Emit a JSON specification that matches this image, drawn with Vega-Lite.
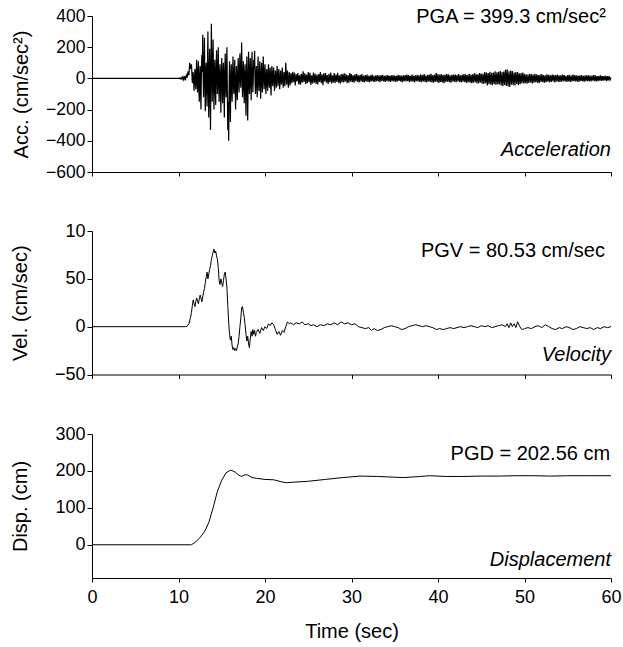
{
  "$schema": "https://vega.github.io/schema/vega-lite/v6.json",
  "padding": {"left": 10, "top": 7, "right": 0, "bottom": 5},
  "spacing": 41,
  "config": {
    "view": {"stroke": null},
    "font": "Liberation Sans",
    "axis": {"grid": false, "domainColor": "#000", "tickColor": "#000", "labelColor": "#000", "titleColor": "#000", "labelFont": "Liberation Sans", "titleFont": "Liberation Sans", "labelFontSize": 18, "titleFontSize": 20, "titleFontWeight": "normal", "domainWidth": 1, "tickWidth": 1, "labelOverlap": false},
    "axisX": {"tickSize": 4, "labelPadding": 6, "labelFlush": false},
    "axisY": {"tickSize": 5, "labelPadding": 2}
  },
  "datasets": {
    "acc": [
      {"t":0,"acc":0},{"t":10.0,"acc":0},{"t":10.1,"acc":3},{"t":10.2,"acc":-4},{"t":10.3,"acc":6},{"t":10.4,"acc":-5},{"t":10.5,"acc":10},{"t":10.6,"acc":-8},{"t":10.7,"acc":15},{"t":10.8,"acc":-12},{"t":10.9,"acc":20},
      {"t":11.0,"acc":5},{"t":11.1,"acc":45},{"t":11.2,"acc":20},{"t":11.3,"acc":100},{"t":11.4,"acc":60},{"t":11.5,"acc":90},{"t":11.6,"acc":-30},{"t":11.7,"acc":40},{"t":11.8,"acc":-80},{"t":11.9,"acc":60},
      {"t":12.0,"acc":-70},{"t":12.05,"acc":30},{"t":12.1,"acc":120},{"t":12.15,"acc":-20},{"t":12.2,"acc":-90},{"t":12.25,"acc":40},{"t":12.3,"acc":110},{"t":12.35,"acc":-60},{"t":12.4,"acc":-150},{"t":12.45,"acc":10},{"t":12.5,"acc":80},{"t":12.55,"acc":-90},{"t":12.6,"acc":-200},{"t":12.65,"acc":60},{"t":12.7,"acc":150},{"t":12.75,"acc":40},{"t":12.8,"acc":280},{"t":12.85,"acc":30},{"t":12.9,"acc":-120},{"t":12.95,"acc":80},
      {"t":13.0,"acc":260},{"t":13.05,"acc":-40},{"t":13.1,"acc":-210},{"t":13.15,"acc":20},{"t":13.2,"acc":100},{"t":13.25,"acc":-50},{"t":13.3,"acc":-180},{"t":13.35,"acc":90},{"t":13.4,"acc":300},{"t":13.45,"acc":-60},{"t":13.5,"acc":-250},{"t":13.55,"acc":40},{"t":13.6,"acc":190},{"t":13.65,"acc":-90},{"t":13.7,"acc":-330},{"t":13.75,"acc":60},{"t":13.8,"acc":350},{"t":13.85,"acc":100},{"t":13.9,"acc":-150},{"t":13.95,"acc":30},
      {"t":14.0,"acc":250},{"t":14.05,"acc":-30},{"t":14.1,"acc":-200},{"t":14.15,"acc":50},{"t":14.2,"acc":120},{"t":14.25,"acc":-60},{"t":14.3,"acc":-170},{"t":14.35,"acc":40},{"t":14.4,"acc":180},{"t":14.45,"acc":20},{"t":14.5,"acc":-100},{"t":14.55,"acc":60},{"t":14.6,"acc":200},{"t":14.65,"acc":-40},{"t":14.7,"acc":-150},{"t":14.75,"acc":10},{"t":14.8,"acc":90},{"t":14.85,"acc":-70},{"t":14.9,"acc":-220},{"t":14.95,"acc":20},
      {"t":15.0,"acc":130},{"t":15.05,"acc":-30},{"t":15.1,"acc":-160},{"t":15.15,"acc":40},{"t":15.2,"acc":100},{"t":15.25,"acc":-80},{"t":15.3,"acc":-250},{"t":15.35,"acc":30},{"t":15.4,"acc":160},{"t":15.45,"acc":-20},{"t":15.5,"acc":-120},{"t":15.55,"acc":70},{"t":15.6,"acc":200},{"t":15.65,"acc":-100},{"t":15.7,"acc":-330},{"t":15.75,"acc":-150},{"t":15.8,"acc":-400},{"t":15.85,"acc":-80},{"t":15.9,"acc":110},{"t":15.95,"acc":-50},
      {"t":16.0,"acc":-280},{"t":16.05,"acc":-20},{"t":16.1,"acc":90},{"t":16.15,"acc":-40},{"t":16.2,"acc":-150},{"t":16.25,"acc":30},{"t":16.3,"acc":140},{"t":16.35,"acc":-20},{"t":16.4,"acc":-100},{"t":16.45,"acc":40},{"t":16.5,"acc":120},{"t":16.55,"acc":-60},{"t":16.6,"acc":-200},{"t":16.65,"acc":-30},{"t":16.7,"acc":80},{"t":16.75,"acc":-50},{"t":16.8,"acc":-140},{"t":16.85,"acc":20},{"t":16.9,"acc":130},{"t":16.95,"acc":10},
      {"t":17.0,"acc":-90},{"t":17.05,"acc":40},{"t":17.1,"acc":160},{"t":17.15,"acc":20},{"t":17.2,"acc":-60},{"t":17.25,"acc":70},{"t":17.3,"acc":230},{"t":17.35,"acc":30},{"t":17.4,"acc":-120},{"t":17.45,"acc":10},{"t":17.5,"acc":110},{"t":17.55,"acc":-40},{"t":17.6,"acc":-160},{"t":17.65,"acc":20},{"t":17.7,"acc":90},{"t":17.75,"acc":-80},{"t":17.8,"acc":-240},{"t":17.85,"acc":10},{"t":17.9,"acc":140},{"t":17.95,"acc":-60},
      {"t":18.0,"acc":-270},{"t":18.05,"acc":-30},{"t":18.1,"acc":170},{"t":18.15,"acc":40},{"t":18.2,"acc":-100},{"t":18.25,"acc":20},{"t":18.3,"acc":130},{"t":18.35,"acc":-10},{"t":18.4,"acc":-140},{"t":18.45,"acc":30},{"t":18.5,"acc":170},{"t":18.55,"acc":20},{"t":18.6,"acc":-90},{"t":18.65,"acc":10},{"t":18.7,"acc":120},{"t":18.75,"acc":60},{"t":18.8,"acc":175},{"t":18.85,"acc":-20},{"t":18.9,"acc":-100},{"t":18.95,"acc":10},
      {"t":19.0,"acc":80},{"t":19.05,"acc":-30},{"t":19.1,"acc":-120},{"t":19.15,"acc":20},{"t":19.2,"acc":140},{"t":19.25,"acc":-10},{"t":19.3,"acc":-80},{"t":19.35,"acc":30},{"t":19.4,"acc":110},{"t":19.45,"acc":-40},{"t":19.5,"acc":-130},{"t":19.55,"acc":20},{"t":19.6,"acc":100},{"t":19.65,"acc":-20},{"t":19.7,"acc":-90},{"t":19.75,"acc":50},{"t":19.8,"acc":140},{"t":19.85,"acc":10},{"t":19.9,"acc":-70},{"t":19.95,"acc":20},
      {"t":20.0,"acc":90},{"t":20.05,"acc":-20},{"t":20.1,"acc":-100},{"t":20.15,"acc":10},{"t":20.2,"acc":60},{"t":20.25,"acc":-30},{"t":20.3,"acc":-80},{"t":20.35,"acc":20},{"t":20.4,"acc":90},{"t":20.45,"acc":-10},{"t":20.5,"acc":-60},{"t":20.55,"acc":30},{"t":20.6,"acc":70},{"t":20.65,"acc":-40},{"t":20.7,"acc":-110},{"t":20.75,"acc":20},{"t":20.8,"acc":80},{"t":20.85,"acc":-10},{"t":20.9,"acc":-50},{"t":20.95,"acc":30},
      {"t":21.0,"acc":70},{"t":21.1,"acc":-80},{"t":21.2,"acc":50},{"t":21.3,"acc":-60},{"t":21.4,"acc":80},{"t":21.5,"acc":-50},{"t":21.6,"acc":60},{"t":21.7,"acc":-70},{"t":21.8,"acc":50},{"t":21.9,"acc":-40},
      {"t":22.0,"acc":70},{"t":22.1,"acc":-60},{"t":22.2,"acc":40},{"t":22.3,"acc":-50},{"t":22.4,"acc":100},{"t":22.5,"acc":-40},{"t":22.6,"acc":50},{"t":22.7,"acc":-60},{"t":22.8,"acc":40},{"t":22.9,"acc":-45},
      {"t":23.0,"acc":35},{"t":23.1,"acc":-30},{"t":23.2,"acc":42},{"t":23.3,"acc":-25},{"t":23.4,"acc":38},{"t":23.5,"acc":-45},{"t":23.6,"acc":28},{"t":23.7,"acc":-20},{"t":23.8,"acc":35},{"t":23.9,"acc":-38},
      {"t":24.0,"acc":22},{"t":24.1,"acc":-40},{"t":24.2,"acc":30},{"t":24.3,"acc":-28},{"t":24.4,"acc":45},{"t":24.5,"acc":-22},{"t":24.6,"acc":33},{"t":24.7,"acc":-36},{"t":24.8,"acc":25},{"t":24.9,"acc":-30},
      {"t":25.0,"acc":40},{"t":25.1,"acc":-25},{"t":25.2,"acc":36},{"t":25.3,"acc":-42},{"t":25.4,"acc":20},{"t":25.5,"acc":-33},{"t":25.6,"acc":38},{"t":25.7,"acc":-27},{"t":25.8,"acc":30},{"t":25.9,"acc":-35},
      {"t":26.0,"acc":24},{"t":26.1,"acc":-38},{"t":26.2,"acc":28},{"t":26.3,"acc":-22},{"t":26.4,"acc":40},{"t":26.5,"acc":-30},{"t":26.6,"acc":26},{"t":26.7,"acc":-44},{"t":26.8,"acc":32},{"t":26.9,"acc":-20},
      {"t":27.0,"acc":35},{"t":27.1,"acc":-28},{"t":27.2,"acc":22},{"t":27.3,"acc":-35},{"t":27.4,"acc":30},{"t":27.5,"acc":-25},{"t":27.6,"acc":38},{"t":27.7,"acc":-32},{"t":27.8,"acc":20},{"t":27.9,"acc":-26},
      {"t":28.0,"acc":34},{"t":28.1,"acc":-30},{"t":28.2,"acc":25},{"t":28.3,"acc":-22},{"t":28.4,"acc":36},{"t":28.5,"acc":-28},{"t":28.6,"acc":20},{"t":28.7,"acc":-34},{"t":28.8,"acc":27},{"t":28.9,"acc":-24},
      {"t":29.0,"acc":30},{"t":29.1,"acc":-26},{"t":29.2,"acc":33},{"t":29.3,"acc":-20},{"t":29.4,"acc":25},{"t":29.5,"acc":-30},{"t":29.6,"acc":22},{"t":29.7,"acc":-27},{"t":29.8,"acc":35},{"t":29.9,"acc":-21},
      {"t":30.0,"acc":28},{"t":30.1,"acc":-24},{"t":30.2,"acc":20},{"t":30.3,"acc":-28},{"t":30.4,"acc":26},{"t":30.5,"acc":-18},{"t":30.6,"acc":30},{"t":30.7,"acc":-22},{"t":30.8,"acc":19},{"t":30.9,"acc":-25},
      {"t":31.0,"acc":23},{"t":31.1,"acc":-20},{"t":31.2,"acc":27},{"t":31.3,"acc":-23},{"t":31.4,"acc":18},{"t":31.5,"acc":-26},{"t":31.6,"acc":22},{"t":31.7,"acc":-19},{"t":31.8,"acc":25},{"t":31.9,"acc":-22},
      {"t":32.0,"acc":17},{"t":32.1,"acc":-25},{"t":32.2,"acc":20},{"t":32.3,"acc":-18},{"t":32.4,"acc":24},{"t":32.5,"acc":-21},{"t":32.6,"acc":16},{"t":32.7,"acc":-23},{"t":32.8,"acc":20},{"t":32.9,"acc":-17},
      {"t":33.0,"acc":22},{"t":33.1,"acc":-20},{"t":33.2,"acc":18},{"t":33.3,"acc":-24},{"t":33.4,"acc":21},{"t":33.5,"acc":-16},{"t":33.6,"acc":23},{"t":33.7,"acc":-19},{"t":33.8,"acc":17},{"t":33.9,"acc":-22},
      {"t":34.0,"acc":19},{"t":34.1,"acc":-18},{"t":34.2,"acc":22},{"t":34.3,"acc":-20},{"t":34.4,"acc":16},{"t":34.5,"acc":-23},{"t":34.6,"acc":19},{"t":34.7,"acc":-17},{"t":34.8,"acc":21},{"t":34.9,"acc":-20},
      {"t":35.0,"acc":18},{"t":35.1,"acc":-22},{"t":35.2,"acc":17},{"t":35.3,"acc":-19},{"t":35.4,"acc":23},{"t":35.5,"acc":-16},{"t":35.6,"acc":20},{"t":35.7,"acc":-21},{"t":35.8,"acc":18},{"t":35.9,"acc":-24},
      {"t":36.0,"acc":19},{"t":36.1,"acc":-17},{"t":36.2,"acc":22},{"t":36.3,"acc":-20},{"t":36.4,"acc":25},{"t":36.5,"acc":-18},{"t":36.6,"acc":21},{"t":36.7,"acc":-23},{"t":36.8,"acc":17},{"t":36.9,"acc":-19},
      {"t":37.0,"acc":24},{"t":37.1,"acc":-21},{"t":37.2,"acc":18},{"t":37.3,"acc":-25},{"t":37.4,"acc":20},{"t":37.5,"acc":-17},{"t":37.6,"acc":23},{"t":37.7,"acc":-20},{"t":37.8,"acc":19},{"t":37.9,"acc":-22},
      {"t":38.0,"acc":26},{"t":38.1,"acc":-24},{"t":38.2,"acc":21},{"t":38.3,"acc":-19},{"t":38.4,"acc":27},{"t":38.5,"acc":-22},{"t":38.6,"acc":18},{"t":38.7,"acc":-26},{"t":38.8,"acc":23},{"t":38.9,"acc":-20},
      {"t":39.0,"acc":25},{"t":39.1,"acc":-23},{"t":39.2,"acc":30},{"t":39.3,"acc":-26},{"t":39.4,"acc":22},{"t":39.5,"acc":-28},{"t":39.6,"acc":25},{"t":39.7,"acc":-21},{"t":39.8,"acc":35},{"t":39.9,"acc":-24},
      {"t":40.0,"acc":27},{"t":40.1,"acc":-29},{"t":40.2,"acc":24},{"t":40.3,"acc":-22},{"t":40.4,"acc":28},{"t":40.5,"acc":-26},{"t":40.6,"acc":21},{"t":40.7,"acc":-30},{"t":40.8,"acc":25},{"t":40.9,"acc":-23},
      {"t":41.0,"acc":27},{"t":41.1,"acc":-21},{"t":41.2,"acc":26},{"t":41.3,"acc":-24},{"t":41.4,"acc":20},{"t":41.5,"acc":-27},{"t":41.6,"acc":23},{"t":41.7,"acc":-19},{"t":41.8,"acc":25},{"t":41.9,"acc":-22},
      {"t":42.0,"acc":24},{"t":42.1,"acc":-25},{"t":42.2,"acc":22},{"t":42.3,"acc":-20},{"t":42.4,"acc":27},{"t":42.5,"acc":-23},{"t":42.6,"acc":19},{"t":42.7,"acc":-26},{"t":42.8,"acc":24},{"t":42.9,"acc":-21},
      {"t":43.0,"acc":28},{"t":43.1,"acc":-24},{"t":43.2,"acc":26},{"t":43.3,"acc":-29},{"t":43.4,"acc":22},{"t":43.5,"acc":-25},{"t":43.6,"acc":30},{"t":43.7,"acc":-27},{"t":43.8,"acc":24},{"t":43.9,"acc":-31},
      {"t":44.0,"acc":26},{"t":44.1,"acc":-28},{"t":44.2,"acc":32},{"t":44.3,"acc":-25},{"t":44.4,"acc":29},{"t":44.5,"acc":-33},{"t":44.6,"acc":27},{"t":44.7,"acc":-30},{"t":44.8,"acc":35},{"t":44.9,"acc":-26},
      {"t":45.0,"acc":31},{"t":45.1,"acc":-34},{"t":45.2,"acc":30},{"t":45.3,"acc":-36},{"t":45.4,"acc":40},{"t":45.5,"acc":-31},{"t":45.6,"acc":37},{"t":45.7,"acc":-45},{"t":45.8,"acc":35},{"t":45.9,"acc":-38},
      {"t":46.0,"acc":42},{"t":46.1,"acc":-40},{"t":46.2,"acc":36},{"t":46.3,"acc":-44},{"t":46.4,"acc":38},{"t":46.5,"acc":-35},{"t":46.6,"acc":45},{"t":46.7,"acc":-42},{"t":46.8,"acc":39},{"t":46.9,"acc":-37},
      {"t":47.0,"acc":43},{"t":47.1,"acc":-39},{"t":47.2,"acc":48},{"t":47.3,"acc":-45},{"t":47.4,"acc":40},{"t":47.5,"acc":-50},{"t":47.6,"acc":44},{"t":47.7,"acc":-42},{"t":47.8,"acc":55},{"t":47.9,"acc":-48},
      {"t":48.0,"acc":58},{"t":48.1,"acc":-52},{"t":48.2,"acc":45},{"t":48.3,"acc":-55},{"t":48.4,"acc":50},{"t":48.5,"acc":-40},{"t":48.6,"acc":47},{"t":48.7,"acc":-44},{"t":48.8,"acc":38},{"t":48.9,"acc":-46},
      {"t":49.0,"acc":41},{"t":49.1,"acc":-36},{"t":49.2,"acc":40},{"t":49.3,"acc":-42},{"t":49.4,"acc":33},{"t":49.5,"acc":-38},{"t":49.6,"acc":35},{"t":49.7,"acc":-30},{"t":49.8,"acc":37},{"t":49.9,"acc":-33},
      {"t":50.0,"acc":29},{"t":50.1,"acc":-31},{"t":50.2,"acc":27},{"t":50.3,"acc":-34},{"t":50.4,"acc":25},{"t":50.5,"acc":-29},{"t":50.6,"acc":30},{"t":50.7,"acc":-26},{"t":50.8,"acc":28},{"t":50.9,"acc":-32},
      {"t":51.0,"acc":24},{"t":51.1,"acc":-27},{"t":51.2,"acc":30},{"t":51.3,"acc":-24},{"t":51.4,"acc":26},{"t":51.5,"acc":-28},{"t":51.6,"acc":22},{"t":51.7,"acc":-30},{"t":51.8,"acc":25},{"t":51.9,"acc":-23},
      {"t":52.0,"acc":27},{"t":52.1,"acc":-25},{"t":52.2,"acc":22},{"t":52.3,"acc":-27},{"t":52.4,"acc":20},{"t":52.5,"acc":-24},{"t":52.6,"acc":26},{"t":52.7,"acc":-21},{"t":52.8,"acc":23},{"t":52.9,"acc":-25},
      {"t":53.0,"acc":19},{"t":53.1,"acc":-22},{"t":53.2,"acc":25},{"t":53.3,"acc":-20},{"t":53.4,"acc":23},{"t":53.5,"acc":-26},{"t":53.6,"acc":21},{"t":53.7,"acc":-19},{"t":53.8,"acc":24},{"t":53.9,"acc":-22},
      {"t":54.0,"acc":20},{"t":54.1,"acc":-23},{"t":54.2,"acc":19},{"t":54.3,"acc":-21},{"t":54.4,"acc":24},{"t":54.5,"acc":-18},{"t":54.6,"acc":22},{"t":54.7,"acc":-20},{"t":54.8,"acc":17},{"t":54.9,"acc":-23},
      {"t":55.0,"acc":21},{"t":55.1,"acc":-19},{"t":55.2,"acc":23},{"t":55.3,"acc":-22},{"t":55.4,"acc":18},{"t":55.5,"acc":-20},{"t":55.6,"acc":24},{"t":55.7,"acc":-17},{"t":55.8,"acc":21},{"t":55.9,"acc":-19},
      {"t":56.0,"acc":20},{"t":56.1,"acc":-21},{"t":56.2,"acc":18},{"t":56.3,"acc":-23},{"t":56.4,"acc":20},{"t":56.5,"acc":-16},{"t":56.6,"acc":22},{"t":56.7,"acc":-19},{"t":56.8,"acc":17},{"t":56.9,"acc":-21},
      {"t":57.0,"acc":19},{"t":57.1,"acc":-18},{"t":57.2,"acc":20},{"t":57.3,"acc":-17},{"t":57.4,"acc":22},{"t":57.5,"acc":-19},{"t":57.6,"acc":16},{"t":57.7,"acc":-20},{"t":57.8,"acc":18},{"t":57.9,"acc":-15},
      {"t":58.0,"acc":21},{"t":58.1,"acc":-17},{"t":58.2,"acc":19},{"t":58.3,"acc":-20},{"t":58.4,"acc":15},{"t":58.5,"acc":-18},{"t":58.6,"acc":17},{"t":58.7,"acc":-14},{"t":58.8,"acc":19},{"t":58.9,"acc":-16},
      {"t":59.0,"acc":15},{"t":59.1,"acc":-15},{"t":59.2,"acc":17},{"t":59.3,"acc":-13},{"t":59.4,"acc":16},{"t":59.5,"acc":-18},{"t":59.6,"acc":14},{"t":59.7,"acc":-12},{"t":59.8,"acc":15},{"t":59.9,"acc":-10},
      {"t":60.0,"acc":5}
    ],
    "vel": [
      {"t":0,"vel":0},{"t":10.8,"vel":0},{"t":11.0,"vel":0.5},{"t":11.2,"vel":3},{"t":11.4,"vel":10},{"t":11.5,"vel":15},{"t":11.6,"vel":22},{"t":11.7,"vel":28},{"t":11.8,"vel":24},{"t":11.9,"vel":21},
      {"t":12.0,"vel":26},{"t":12.1,"vel":30},{"t":12.2,"vel":27},{"t":12.3,"vel":24},{"t":12.4,"vel":29},{"t":12.5,"vel":33},{"t":12.6,"vel":30},{"t":12.7,"vel":26},{"t":12.8,"vel":31},{"t":12.9,"vel":36},
      {"t":13.0,"vel":40},{"t":13.1,"vel":46},{"t":13.2,"vel":52},{"t":13.3,"vel":57},{"t":13.4,"vel":50},{"t":13.5,"vel":55},{"t":13.6,"vel":60},{"t":13.7,"vel":64},{"t":13.8,"vel":70},{"t":13.9,"vel":74},
      {"t":14.0,"vel":78},{"t":14.1,"vel":81},{"t":14.2,"vel":77},{"t":14.3,"vel":79},{"t":14.4,"vel":74},{"t":14.5,"vel":70},{"t":14.6,"vel":62},{"t":14.7,"vel":48},{"t":14.8,"vel":44},{"t":14.9,"vel":50},
      {"t":15.0,"vel":46},{"t":15.1,"vel":42},{"t":15.2,"vel":48},{"t":15.3,"vel":55},{"t":15.4,"vel":57},{"t":15.5,"vel":50},{"t":15.6,"vel":40},{"t":15.7,"vel":22},{"t":15.8,"vel":5},{"t":15.9,"vel":-8},
      {"t":16.0,"vel":-14},{"t":16.1,"vel":-10},{"t":16.2,"vel":-20},{"t":16.3,"vel":-24},{"t":16.4,"vel":-22},{"t":16.5,"vel":-25},{"t":16.6,"vel":-23},{"t":16.7,"vel":-25},{"t":16.8,"vel":-21},{"t":16.9,"vel":-18},
      {"t":17.0,"vel":-10},{"t":17.1,"vel":0},{"t":17.2,"vel":8},{"t":17.3,"vel":20},{"t":17.4,"vel":21},{"t":17.5,"vel":15},{"t":17.6,"vel":10},{"t":17.7,"vel":2},{"t":17.8,"vel":-8},{"t":17.9,"vel":-15},
      {"t":18.0,"vel":-10},{"t":18.1,"vel":-18},{"t":18.2,"vel":-22},{"t":18.3,"vel":-12},{"t":18.4,"vel":-5},{"t":18.5,"vel":-10},{"t":18.6,"vel":-3},{"t":18.7,"vel":-8},{"t":18.8,"vel":-4},{"t":18.9,"vel":-10},
      {"t":19.0,"vel":-6},{"t":19.2,"vel":-3},{"t":19.4,"vel":-7},{"t":19.6,"vel":-1},{"t":19.8,"vel":-4},{"t":20.0,"vel":0},{"t":20.2,"vel":-2},{"t":20.4,"vel":3},{"t":20.6,"vel":1},{"t":20.8,"vel":4},
      {"t":21.0,"vel":2},{"t":21.2,"vel":-3},{"t":21.4,"vel":-8},{"t":21.6,"vel":-5},{"t":21.8,"vel":-9},{"t":22.0,"vel":-4},{"t":22.2,"vel":-6},{"t":22.4,"vel":0},{"t":22.6,"vel":5},{"t":22.8,"vel":3},
      {"t":23.0,"vel":4},{"t":23.3,"vel":2},{"t":23.6,"vel":4},{"t":24.0,"vel":3},{"t":24.3,"vel":5},{"t":24.6,"vel":2},{"t":25.0,"vel":3},{"t":25.3,"vel":1},{"t":25.6,"vel":2},{"t":26.0,"vel":0},
      {"t":26.4,"vel":2},{"t":26.8,"vel":1},{"t":27.2,"vel":3},{"t":27.6,"vel":2},{"t":28.0,"vel":4},{"t":28.4,"vel":2},{"t":28.8,"vel":5},{"t":29.2,"vel":3},{"t":29.6,"vel":4},{"t":30.0,"vel":2},
      {"t":30.4,"vel":3},{"t":30.8,"vel":0},{"t":31.2,"vel":-1},{"t":31.6,"vel":-2},{"t":32.0,"vel":-1},{"t":32.3,"vel":-4},{"t":32.6,"vel":-2},{"t":33.0,"vel":-4},{"t":33.4,"vel":-3},{"t":33.8,"vel":-1},
      {"t":34.2,"vel":0},{"t":34.6,"vel":1},{"t":35.0,"vel":0},{"t":35.4,"vel":-1},{"t":35.8,"vel":-3},{"t":36.2,"vel":-2},{"t":36.6,"vel":0},{"t":37.0,"vel":1},{"t":37.4,"vel":2},{"t":37.8,"vel":1},
      {"t":38.2,"vel":0},{"t":38.6,"vel":1},{"t":39.0,"vel":0},{"t":39.4,"vel":-1},{"t":39.8,"vel":-3},{"t":40.2,"vel":-2},{"t":40.6,"vel":-3},{"t":41.0,"vel":-2},{"t":41.4,"vel":-1},{"t":41.8,"vel":-2},
      {"t":42.2,"vel":-1},{"t":42.6,"vel":0},{"t":43.0,"vel":-1},{"t":43.4,"vel":0},{"t":43.8,"vel":1},{"t":44.2,"vel":0},{"t":44.6,"vel":-1},{"t":45.0,"vel":1},{"t":45.4,"vel":0},{"t":45.8,"vel":1},
      {"t":46.2,"vel":-1},{"t":46.6,"vel":0},{"t":47.0,"vel":1},{"t":47.4,"vel":2},{"t":47.8,"vel":0},{"t":48.0,"vel":3},{"t":48.2,"vel":-1},{"t":48.4,"vel":4},{"t":48.6,"vel":0},{"t":48.8,"vel":3},
      {"t":49.0,"vel":-1},{"t":49.2,"vel":5},{"t":49.4,"vel":1},{"t":49.6,"vel":-2},{"t":49.8,"vel":-3},{"t":50.0,"vel":-2},{"t":50.4,"vel":-1},{"t":50.8,"vel":-2},{"t":51.2,"vel":0},{"t":51.6,"vel":1},
      {"t":52.0,"vel":-1},{"t":52.4,"vel":2},{"t":52.8,"vel":0},{"t":53.2,"vel":-2},{"t":53.6,"vel":-3},{"t":54.0,"vel":-1},{"t":54.4,"vel":-2},{"t":54.8,"vel":0},{"t":55.2,"vel":-1},{"t":55.6,"vel":-3},
      {"t":56.0,"vel":-2},{"t":56.4,"vel":0},{"t":56.8,"vel":-1},{"t":57.2,"vel":-2},{"t":57.6,"vel":-1},{"t":58.0,"vel":-3},{"t":58.4,"vel":-1},{"t":58.8,"vel":-2},{"t":59.2,"vel":0},{"t":59.6,"vel":-1},
      {"t":60.0,"vel":0}
    ],
    "disp": [
      {"t":0,"disp":0},{"t":11.5,"disp":0},{"t":12.0,"disp":8},{"t":12.5,"disp":20},{"t":13.0,"disp":35},{"t":13.5,"disp":60},{"t":14.0,"disp":100},{"t":14.5,"disp":145},{"t":15.0,"disp":175},{"t":15.5,"disp":195},
      {"t":16.0,"disp":202},{"t":16.5,"disp":198},{"t":17.0,"disp":188},{"t":17.3,"disp":185},{"t":17.7,"disp":190},{"t":18.0,"disp":189},{"t":18.5,"disp":182},{"t":19.0,"disp":180},{"t":20.0,"disp":177},{"t":21.0,"disp":176},
      {"t":22.0,"disp":170},{"t":22.5,"disp":168},{"t":23.0,"disp":169},{"t":25.0,"disp":172},{"t":27.0,"disp":177},{"t":29.0,"disp":182},{"t":31.0,"disp":186},{"t":33.0,"disp":185},{"t":35.0,"disp":183},{"t":36.0,"disp":182},
      {"t":38.0,"disp":185},{"t":39.0,"disp":187},{"t":41.0,"disp":185},{"t":43.0,"disp":185},{"t":45.0,"disp":186},{"t":47.0,"disp":186},{"t":49.0,"disp":187},{"t":51.0,"disp":187},{"t":53.0,"disp":186},{"t":55.0,"disp":187},
      {"t":57.0,"disp":187},{"t":60.0,"disp":187}
    ]
  },
  "vconcat": [
    {
      "width": 519, "height": 156,
      "layer": [
        {
          "data": {"name": "acc"},
          "mark": {"type": "line", "color": "black", "strokeWidth": 1.2},
          "encoding": {
            "x": {"field": "t", "type": "quantitative", "scale": {"domain": [0, 60], "nice": false}, "axis": {"values": [0,10,20,30,40,50,60], "tickCount": 12, "labels": false, "title": null}},
            "y": {"field": "acc", "type": "quantitative", "scale": {"domain": [-600, 400], "nice": false}, "axis": {"values": [-600,-400,-200,0,200,400], "tickCount": 12, "labelOverlap": false, "labelFontSize": 17.5, "title": "Acc. (cm/sec²)", "titlePadding": 14}}
          }
        },
        {
          "data": {"values": [{}]},
          "mark": {"type": "text", "align": "right", "baseline": "middle", "fontSize": 20, "font": "Liberation Sans", "color": "black"},
          "encoding": {"x": {"datum": 59.4, "type": "quantitative"}, "y": {"datum": 393, "type": "quantitative"}, "text": {"value": "PGA = 399.3 cm/sec²"}}
        },
        {
          "data": {"values": [{}]},
          "mark": {"type": "text", "align": "right", "baseline": "middle", "fontSize": 20, "font": "Liberation Sans", "fontStyle": "italic", "color": "black"},
          "encoding": {"x": {"datum": 60, "type": "quantitative"}, "y": {"datum": -459, "type": "quantitative"}, "text": {"value": "Acceleration"}}
        }
      ]
    },
    {
      "width": 519, "height": 143.5,
      "layer": [
        {
          "data": {"name": "vel"},
          "mark": {"type": "line", "color": "black", "strokeWidth": 1},
          "encoding": {
            "x": {"field": "t", "type": "quantitative", "scale": {"domain": [0, 60], "nice": false}, "axis": {"values": [0,10,20,30,40,50,60], "tickCount": 12, "labels": false, "title": null}},
            "y": {"field": "vel", "type": "quantitative", "scale": {"domain": [-50, 100], "nice": false}, "axis": {"values": [-50,0,50,100], "tickCount": 8, "labelOverlap": false, "labelExpr": "datum.value == 100 ? '10' : datum.label", "title": "Vel. (cm/sec)", "titlePadding": 24}}
          }
        },
        {
          "data": {"values": [{}]},
          "mark": {"type": "text", "align": "right", "baseline": "middle", "fontSize": 20, "font": "Liberation Sans", "color": "black"},
          "encoding": {"x": {"datum": 59.3, "type": "quantitative"}, "y": {"datum": 79.6, "type": "quantitative"}, "text": {"value": "PGV = 80.53 cm/sec"}}
        },
        {
          "data": {"values": [{}]},
          "mark": {"type": "text", "align": "right", "baseline": "middle", "fontSize": 20, "font": "Liberation Sans", "fontStyle": "italic", "color": "black"},
          "encoding": {"x": {"datum": 60, "type": "quantitative"}, "y": {"datum": -30, "type": "quantitative"}, "text": {"value": "Velocity"}}
        }
      ]
    },
    {
      "width": 519, "height": 144,
      "layer": [
        {
          "data": {"name": "disp"},
          "mark": {"type": "line", "color": "black", "strokeWidth": 1},
          "encoding": {
            "x": {"field": "t", "type": "quantitative", "scale": {"domain": [0, 60], "nice": false}, "axis": {"values": [0,10,20,30,40,50,60], "tickCount": 12, "labelOverlap": false, "labelFlush": false, "title": "Time (sec)", "titlePadding": 15}},
            "y": {"field": "disp", "type": "quantitative", "scale": {"domain": [-90, 300], "nice": false}, "axis": {"values": [0,100,200,300], "tickCount": 8, "labelOverlap": false, "title": "Disp. (cm)", "titlePadding": 24}}
          }
        },
        {
          "data": {"values": [{}]},
          "mark": {"type": "text", "align": "right", "baseline": "middle", "fontSize": 20, "font": "Liberation Sans", "color": "black"},
          "encoding": {"x": {"datum": 59.9, "type": "quantitative"}, "y": {"datum": 245.8, "type": "quantitative"}, "text": {"value": "PGD = 202.56 cm"}}
        },
        {
          "data": {"values": [{}]},
          "mark": {"type": "text", "align": "right", "baseline": "middle", "fontSize": 20, "font": "Liberation Sans", "fontStyle": "italic", "color": "black"},
          "encoding": {"x": {"datum": 60, "type": "quantitative"}, "y": {"datum": -41, "type": "quantitative"}, "text": {"value": "Displacement"}}
        }
      ]
    }
  ]
}
